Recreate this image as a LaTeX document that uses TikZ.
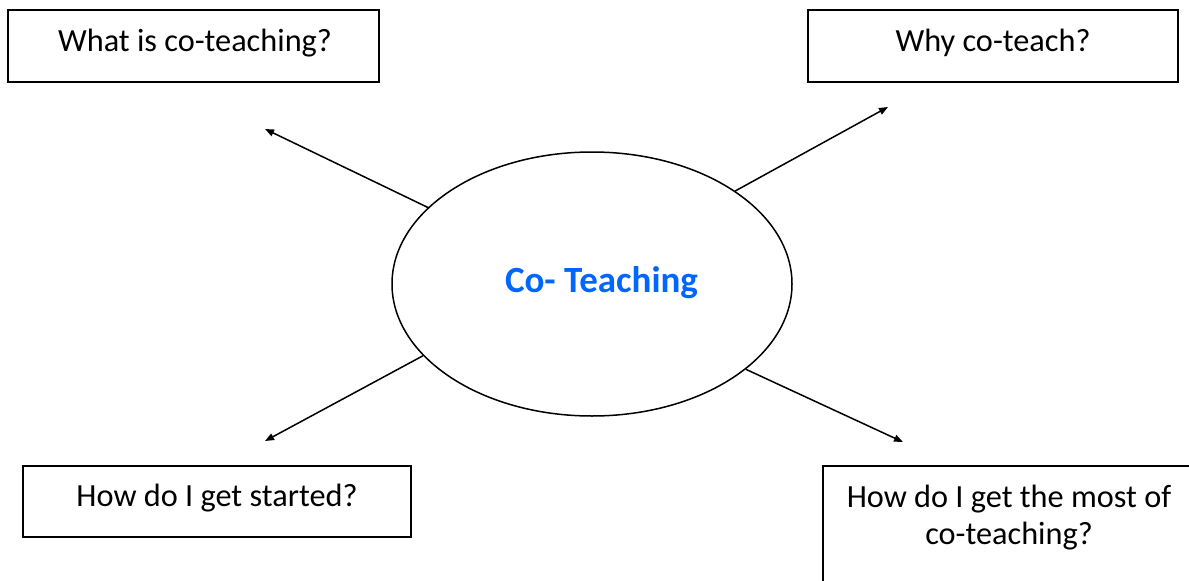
\documentclass[tikz,border=0pt]{standalone}
\usepackage{fontspec}
\setmainfont{Carlito}
\usetikzlibrary{shapes.geometric,arrows.meta}
\definecolor{ctblue}{RGB}{0,102,255}
\tikzset{
  box/.style={draw=black, line width=1.4pt, rectangle, inner sep=0pt},
  lbl/.style={font=\fontsize{32.3}{40}\selectfont, inner sep=0pt, anchor=base},
  conn/.style={line width=1.5pt, -{Triangle[length=9pt,width=7pt]}},
}
\begin{document}
\begin{tikzpicture}[x=1pt,y=-1pt]
\useasboundingbox (0,0) rectangle (1189,581);
\fill[white] (0,0) rectangle (1189,581);
\begin{scope}
\clip (0,0) rectangle (1189,581);
% boxes
\node[box, minimum width=371pt, minimum height=72pt] (b1) at (193.5,46) {};
\node[box, minimum width=370pt, minimum height=72pt] (b2) at (993,46) {};
\node[box, minimum width=388pt, minimum height=71pt] (b3) at (217,501.5) {};
\node[box, minimum width=380pt, minimum height=140pt] (b4) at (1013,536) {};
\end{scope}
% texts
\node[lbl] (t1) at (195,51) {What is co-teaching?};
\node[lbl] (t2) at (993,51) {Why co-teach?};
\node[lbl] (t3) at (217,506) {How do I get started?};
\node[lbl] (t4a) at (1009,507) {How do I get the most of};
\node[lbl] (t4b) at (1009,544) {co-teaching?};
% ellipse
\node[ellipse, draw=black, line width=1.5pt, minimum width=400pt, minimum height=264pt, inner sep=0pt] (e) at (592,284) {};
\node[lbl, font=\fontsize{37}{44}\selectfont\bfseries, text=ctblue] (ct) at (601.5,292) {Co- Teaching};
% arrow ends
\coordinate (a1) at (265,129);
\coordinate (a2) at (888,107);
\coordinate (a3) at (265,441);
\coordinate (a4) at (903,442);
\draw[conn] (e.155.7) -- (a1);
\draw[conn] (e.33.6) -- (a2);
\draw[conn] (e.203.8) -- (a3);
\draw[conn] (e.331.9) -- (a4);
\end{tikzpicture}
\end{document}
